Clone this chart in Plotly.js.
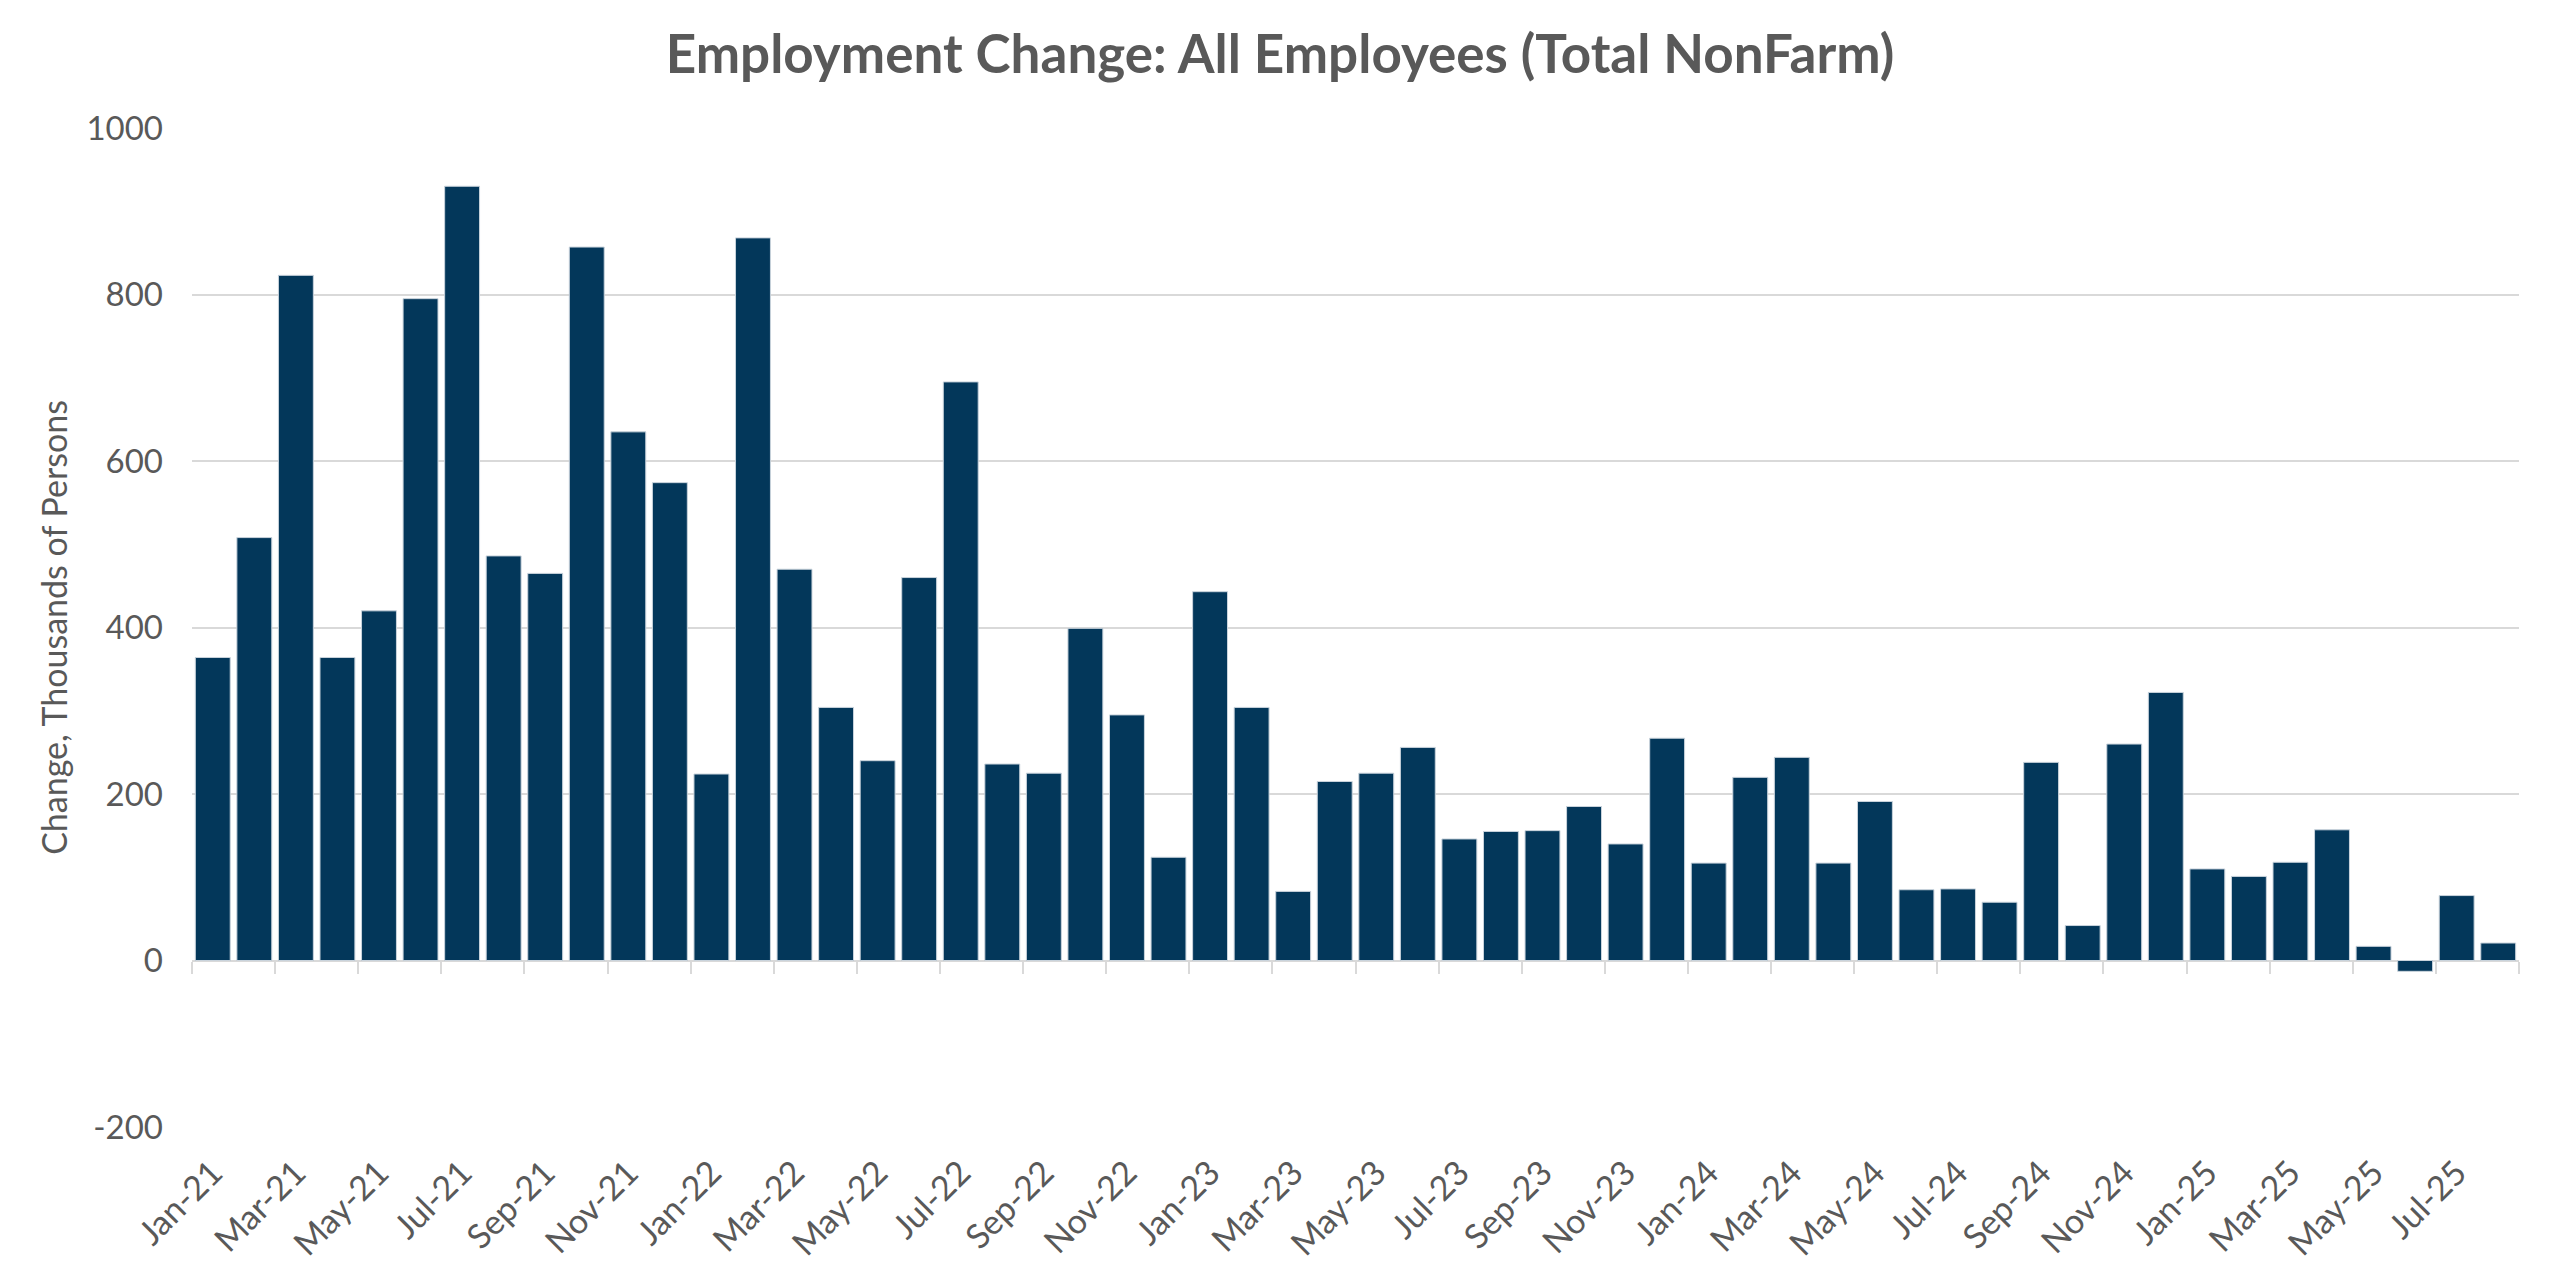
<!DOCTYPE html>
<html>
<head>
<meta charset="utf-8">
<script src="https://cdn.plot.ly/plotly-3.0.1.min.js"></script>
<style>
  html, body { margin: 0; padding: 0; background: #ffffff; }
  #chart { width: 2560px; height: 1274px; }
</style>
</head>
<body>
<div id="chart"></div>
<script>
// ---- Data ----
const months = [
  "Jan-21","Feb-21","Mar-21","Apr-21","May-21","Jun-21","Jul-21","Aug-21","Sep-21","Oct-21","Nov-21","Dec-21",
  "Jan-22","Feb-22","Mar-22","Apr-22","May-22","Jun-22","Jul-22","Aug-22","Sep-22","Oct-22","Nov-22","Dec-22",
  "Jan-23","Feb-23","Mar-23","Apr-23","May-23","Jun-23","Jul-23","Aug-23","Sep-23","Oct-23","Nov-23","Dec-23",
  "Jan-24","Feb-24","Mar-24","Apr-24","May-24","Jun-24","Jul-24","Aug-24","Sep-24","Oct-24","Nov-24","Dec-24",
  "Jan-25","Feb-25","Mar-25","Apr-25","May-25","Jun-25","Jul-25","Aug-25"
];
const employmentChange = [
  364, 508, 823, 364, 420, 795, 930, 486, 465, 857, 635, 574,
  224, 868, 470, 304, 240, 460, 695, 236, 225, 399, 295, 124,
  443, 304, 83, 215, 225, 256, 146, 155, 156, 185, 140, 267,
  117, 220, 244, 117, 191, 85, 86, 70, 238, 42, 260, 322,
  110, 101, 118, 157, 17, -13, 78, 21
];
const yTickVals = [-200, 0, 200, 400, 600, 800, 1000];
const yTickText = ["-200", "0", "200", "400", "600", "800", "1000"];
const yMin = -200, yMax = 1000;

// ---- Styles ----
const barColor = "#03375a";
const textColor = "#595959";
const gridColor = "#d9d9d9";
const fontFamily = "Lato, 'Open Sans', sans-serif";

// indices for the tick-mark axis (category boundaries)
const idx = months.map((m, i) => i);

const traces = [
  {
    type: "bar",
    x: months,
    y: employmentChange,
    marker: { color: barColor, line: { color: "#c9d3dc", width: 1 } },
    hoverinfo: "x+y",
    showlegend: false
  },
  {
    type: "scatter",
    mode: "markers",
    x: idx,
    y: employmentChange,
    xaxis: "x2",
    marker: { opacity: 0, size: 1 },
    hoverinfo: "skip",
    showlegend: false
  }
];

const layout = {
  width: 2560,
  height: 1274,
  paper_bgcolor: "#ffffff",
  plot_bgcolor: "#ffffff",
  margin: { l: 192, r: 41, t: 128, b: 147, pad: 0 },
  font: { family: fontFamily, color: textColor, size: 33 },
  title: {
    text: "<b>Employment Change: All Employees (Total NonFarm)</b>",
    font: { family: fontFamily, size: 53, color: textColor },
    x: 0.5, xref: "container", xanchor: "center",
    y: 0.957, yref: "container", yanchor: "middle"
  },
  bargap: 0.16,
  xaxis: {
    type: "category",
    categoryorder: "array",
    categoryarray: months,
    tickmode: "array",
    tickvals: months.filter((m, i) => i % 2 === 0),
    ticktext: months.filter((m, i) => i % 2 === 0),
    tickangle: -45,
    ticks: "",
    ticklabelstandoff: 18,
    showgrid: false,
    showline: false,
    zeroline: false,
    tickfont: { family: fontFamily, size: 34, color: textColor },
    fixedrange: true
  },
  xaxis2: {
    type: "linear",
    overlaying: "x",
    anchor: "free",
    position: (0 - yMin) / (yMax - yMin),
    range: [-0.5, months.length - 0.5],
    tickmode: "linear",
    tick0: -0.5,
    dtick: 2,
    ticks: "outside",
    ticklen: 12,
    tickwidth: 2,
    tickcolor: gridColor,
    showticklabels: false,
    showgrid: false,
    showline: false,
    zeroline: false,
    fixedrange: true
  },
  yaxis: {
    range: [yMin, yMax],
    tickmode: "array",
    tickvals: yTickVals,
    ticktext: yTickText,
    showgrid: true,
    gridcolor: gridColor,
    gridwidth: 2,
    zeroline: true,
    zerolinecolor: gridColor,
    zerolinewidth: 2,
    showline: false,
    ticks: "",
    ticklabelstandoff: 28,
    tickfont: { family: fontFamily, size: 33, color: textColor },
    title: {
      text: "Change, Thousands of Persons",
      font: { family: fontFamily, size: 34, color: textColor },
      standoff: 8
    },
    fixedrange: true
  }
};

Plotly.newPlot("chart", traces, layout, { displayModeBar: false, staticPlot: true });
</script>
</body>
</html>
